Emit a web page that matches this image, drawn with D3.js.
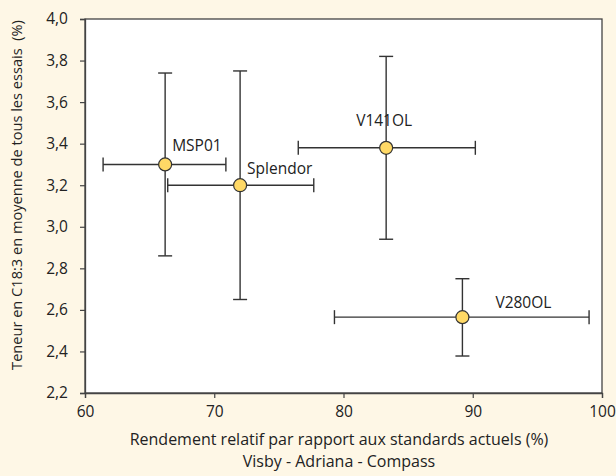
<!DOCTYPE html>
<html><head><meta charset="utf-8">
<script src="https://cdn.jsdelivr.net/npm/d3@7"></script>
<style>
html,body{margin:0;padding:0;background:#FEF7E6;}
text{font-family:"Open Sans",sans-serif;fill:#222;}
</style></head>
<body>
<svg id="c" width="616" height="476"></svg>
<script>
const varieties = ["MSP01","Splendor","V141OL","V280OL"];
const yieldVal  = [66.2, 72.0, 83.3, 89.2];
const yieldLow  = [61.4, 66.4, 76.5, 79.3];
const yieldHigh = [70.9, 77.7, 90.2, 99.0];
const c183Val   = [3.30, 3.20, 3.38, 2.565];
const c183Low   = [2.86, 2.65, 2.94, 2.378];
const c183High  = [3.74, 3.75, 3.82, 2.75];
const xTicks = [60,70,80,90,100];
const yTicks = [2.2,2.4,2.6,2.8,3.0,3.2,3.4,3.6,3.8,4.0];
const labelDx = [7, 7, -30, 33];
const labelDy = [-13, -11, -22, -9];

const svg = d3.select("#c");
const L=85, R=602, T=19, B=393;
const x = d3.scaleLinear().domain([60,100]).range([L,R]);
const y = d3.scaleLinear().domain([2.2,4.0]).range([B,T]);

svg.append("rect").attr("x",L).attr("y",T).attr("width",R-L).attr("height",B-T)
  .attr("fill","#fff").attr("stroke","#444").attr("stroke-width",1.3);

const fmt = d => d3.format(".1f")(d).replace(".",",");
const gy = svg.append("g").attr("transform",`translate(${L},0)`)
  .call(d3.axisLeft(y).tickValues(yTicks).tickFormat(fmt).tickSize(5).tickPadding(12));
const gx = svg.append("g").attr("transform",`translate(0,${B})`)
  .call(d3.axisBottom(x).tickValues(xTicks).tickFormat(d3.format("d")).tickSize(5).tickPadding(8));
[gx,gy].forEach(g=>{
  g.select(".domain").attr("stroke","#444").attr("stroke-width",1.3);
  g.selectAll(".tick line").attr("stroke","#444").attr("stroke-width",1.2);
  g.selectAll(".tick text").attr("font-size",15.5).attr("font-family","Open Sans").attr("fill","#222");
});

const data = varieties.map((n,i)=>({n,xv:yieldVal[i],xl:yieldLow[i],xh:yieldHigh[i],yv:c183Val[i],yl:c183Low[i],yh:c183High[i],dx:labelDx[i],dy:labelDy[i]}));
const cap=7;
const g = svg.append("g").attr("stroke","#333").attr("stroke-width",1.4);
data.forEach(d=>{
  g.append("line").attr("x1",x(d.xl)).attr("x2",x(d.xh)).attr("y1",y(d.yv)).attr("y2",y(d.yv));
  g.append("line").attr("x1",x(d.xl)).attr("x2",x(d.xl)).attr("y1",y(d.yv)-cap).attr("y2",y(d.yv)+cap);
  g.append("line").attr("x1",x(d.xh)).attr("x2",x(d.xh)).attr("y1",y(d.yv)-cap).attr("y2",y(d.yv)+cap);
  g.append("line").attr("x1",x(d.xv)).attr("x2",x(d.xv)).attr("y1",y(d.yl)).attr("y2",y(d.yh));
  g.append("line").attr("x1",x(d.xv)-cap).attr("x2",x(d.xv)+cap).attr("y1",y(d.yl)).attr("y2",y(d.yl));
  g.append("line").attr("x1",x(d.xv)-cap).attr("x2",x(d.xv)+cap).attr("y1",y(d.yh)).attr("y2",y(d.yh));
});
svg.append("g").selectAll("circle").data(data).join("circle")
  .attr("cx",d=>x(d.xv)).attr("cy",d=>y(d.yv)).attr("r",6.5)
  .attr("fill","#FFD966").attr("stroke","#333").attr("stroke-width",1.2);
svg.append("g").selectAll("text").data(data).join("text")
  .attr("x",d=>x(d.xv)+d.dx).attr("y",d=>y(d.yv)+d.dy)
  .attr("font-size",15.5).text(d=>d.n);

svg.append("text").attr("x",339).attr("y",445).attr("text-anchor","middle").attr("font-size",16)
  .text("Rendement relatif par rapport aux standards actuels (%)");
svg.append("text").attr("x",339).attr("y",467).attr("text-anchor","middle").attr("font-size",16)
  .text("Visby - Adriana - Compass");
svg.append("text").attr("transform",`translate(22,195) rotate(-90)`).attr("text-anchor","middle")
  .attr("font-size",14.6).style("white-space","pre")
  .text("Teneur en C18:3 en moyenne de tous les essais  (%)");
</script>
</body></html>
